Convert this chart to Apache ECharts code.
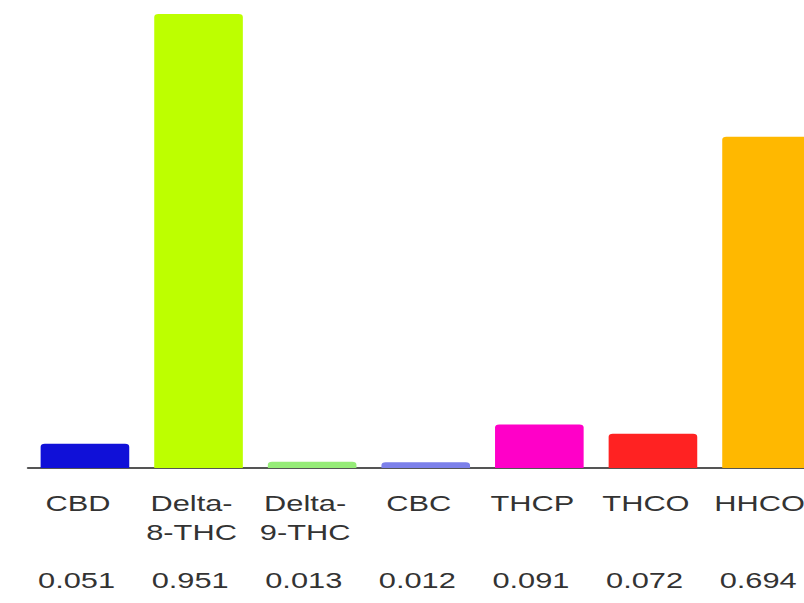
<!DOCTYPE html>
<html>
<head>
<meta charset="utf-8">
<script src="https://cdn.jsdelivr.net/npm/echarts@6/dist/echarts.min.js"></script>
<style>
html,body{margin:0;padding:0;background:#fff;overflow:hidden;}
#wrap{width:804px;height:603px;overflow:hidden;}
#chart{width:575px;height:603px;transform:scaleX(1.4);transform-origin:0 0;}
</style>
</head>
<body>
<div id="wrap"><div id="chart"></div></div>
<script>
var categories = ["CBD", "Delta-\n8-THC", "Delta-\n9-THC", "CBC", "THCP", "THCO", "HHCO"];
var values = [0.051, 0.951, 0.013, 0.012, 0.091, 0.072, 0.694];
var valueLabels = ["0.051", "0.951", "0.013", "0.012", "0.091", "0.072", "0.694"];
var colors = ["#1010d8", "#bdff00", "#96ec78", "#7c80ea", "#ff00c8", "#ff2222", "#ffb800"];

var chart = echarts.init(document.getElementById('chart'), null, {renderer: 'svg'});
var labelFont = {fontFamily: 'Liberation Sans, Arial, sans-serif', fontSize: 22, color: '#333333', lineHeight: 29};
chart.setOption({
  animation: false,
  backgroundColor: '#ffffff',
  grid: {left: 20.1, top: 14, bottom: 135, width: 568, containLabel: false, outerBoundsMode: 'none'},
  xAxis: [{
    type: 'category',
    data: categories,
    axisLine: {show: true, lineStyle: {color: '#555555', width: 2}},
    axisTick: {show: false},
    axisLabel: Object.assign({interval: 0, margin: 21, hideOverlap: false, padding: [0, 10, 0, 0]}, labelFont)
  }, {
    type: 'category',
    position: 'bottom',
    data: valueLabels,
    axisLine: {show: false},
    axisTick: {show: false},
    axisLabel: Object.assign({interval: 0, margin: 98, hideOverlap: false, padding: [0, 12, 0, 0]}, labelFont)
  }],
  yAxis: {
    type: 'value', min: 0, max: 'dataMax', show: false,
    splitLine: {show: false}
  },
  series: [{
    type: 'bar',
    xAxisIndex: 0,
    barWidth: '78%',
    data: values.map(function (v, i) {
      return {value: v, itemStyle: {color: colors[i]}};
    }),
    itemStyle: {borderRadius: [3, 3, 0, 0]}
  }]
});
</script>
</body>
</html>
